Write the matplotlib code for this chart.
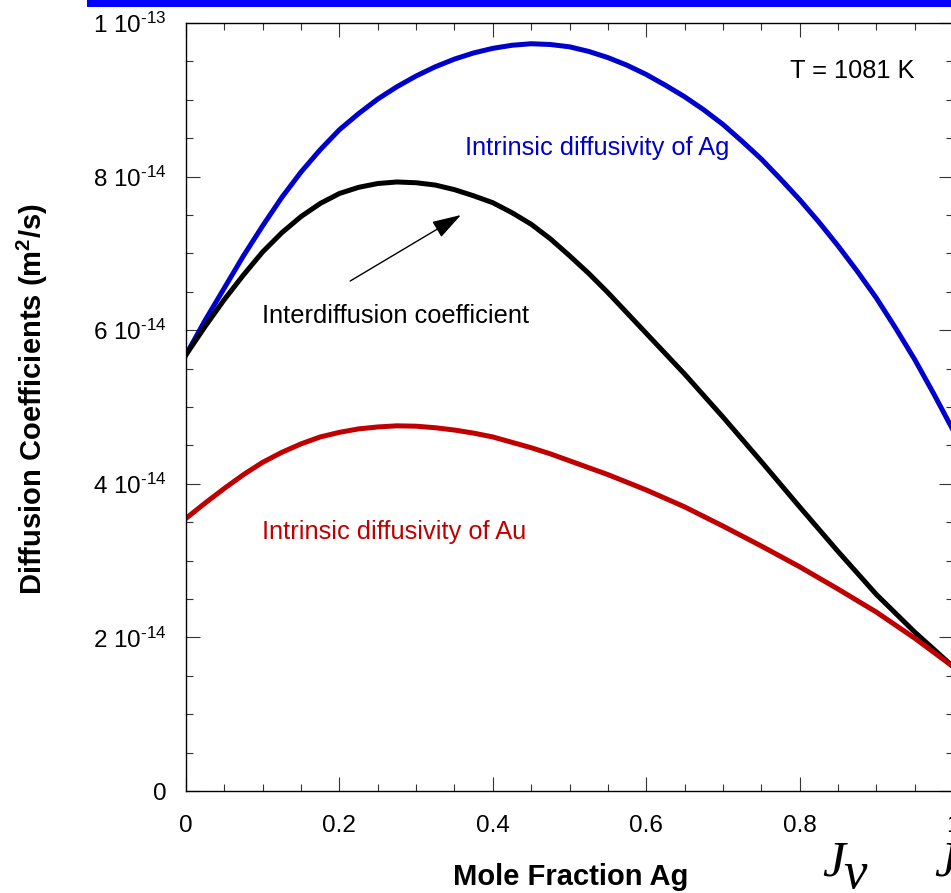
import numpy as np
import matplotlib
matplotlib.use("Agg")
import matplotlib.pyplot as plt
from matplotlib.ticker import MultipleLocator, FuncFormatter
from matplotlib.patches import Rectangle

plt.rcParams["font.family"] = ["Liberation Sans", "DejaVu Sans"]
plt.rcParams["mathtext.fontset"] = "custom"
plt.rcParams["mathtext.rm"] = "Liberation Sans"
plt.rcParams["mathtext.it"] = "Liberation Sans:italic"
plt.rcParams["mathtext.bf"] = "Liberation Sans:bold"
plt.rcParams["mathtext.default"] = "regular"

# ---------- data (diffusivities in units of 1e-14 m^2/s) ----------
SCALE = 1e-14
x_ag = [0.0, 0.025, 0.05, 0.075, 0.10, 0.125, 0.15, 0.175, 0.20, 0.225, 0.25, 0.275,
        0.30, 0.325, 0.35, 0.375, 0.40, 0.425, 0.45, 0.475, 0.50, 0.525, 0.55, 0.575,
        0.60, 0.625, 0.65, 0.675, 0.70, 0.725, 0.75, 0.775, 0.80, 0.825, 0.85, 0.875,
        0.90, 0.925, 0.95, 0.975, 1.0]
d_ag = [5.68, 6.13, 6.55, 6.97, 7.36, 7.73, 8.06, 8.35, 8.61, 8.82, 9.01, 9.17,
        9.31, 9.43, 9.53, 9.61, 9.67, 9.71, 9.73, 9.72, 9.69, 9.63, 9.55, 9.45,
        9.33, 9.19, 9.04, 8.87, 8.68, 8.46, 8.23, 7.97, 7.70, 7.41, 7.10, 6.77,
        6.42, 6.03, 5.62, 5.17, 4.70]

x_inter = [0.0, 0.025, 0.05, 0.075, 0.10, 0.125, 0.15, 0.175, 0.20, 0.225, 0.25, 0.275,
           0.30, 0.325, 0.35, 0.375, 0.40, 0.425, 0.45, 0.475, 0.50, 0.525, 0.55,
           0.60, 0.65, 0.70, 0.75, 0.80, 0.85, 0.90, 0.95, 1.0]
d_inter = [5.68, 6.05, 6.40, 6.72, 7.02, 7.27, 7.48, 7.65, 7.78, 7.86, 7.91, 7.93,
           7.92, 7.89, 7.83, 7.75, 7.66, 7.53, 7.38, 7.19, 6.97, 6.74, 6.49,
           5.96, 5.43, 4.87, 4.29, 3.70, 3.12, 2.56, 2.07, 1.62]

x_au = [0.0, 0.025, 0.05, 0.075, 0.10, 0.125, 0.15, 0.175, 0.20, 0.225, 0.25, 0.275,
        0.30, 0.325, 0.35, 0.375, 0.40, 0.425, 0.45, 0.475, 0.50,
        0.55, 0.60, 0.65, 0.70, 0.75, 0.80, 0.85, 0.90, 0.95, 1.0]
d_au = [3.55, 3.75, 3.94, 4.12, 4.28, 4.41, 4.52, 4.61, 4.67, 4.715, 4.74, 4.755,
        4.75, 4.73, 4.70, 4.66, 4.61, 4.54, 4.47, 4.39, 4.30,
        4.12, 3.92, 3.70, 3.45, 3.19, 2.92, 2.63, 2.33, 1.99, 1.62]

BLUE = "#0000CC"
RED = "#C00000"

# ---------- figure ----------
fig = plt.figure(figsize=(9.51, 8.93), dpi=100)
ax = fig.add_axes([186 / 951, 102 / 893, 767 / 951, 768 / 893])

ax.plot(x_ag, np.array(d_ag) * SCALE, color=BLUE, lw=3.6, solid_joinstyle="round")
ax.plot(x_inter, np.array(d_inter) * SCALE, color="black", lw=3.6, solid_joinstyle="round")
ax.plot(x_au, np.array(d_au) * SCALE, color=RED, lw=3.6, solid_joinstyle="round")

ax.set_xlim(0, 1)
ax.set_ylim(0, 1e-13)

ax.xaxis.set_major_locator(MultipleLocator(0.2))
ax.xaxis.set_minor_locator(MultipleLocator(0.05))
ax.yaxis.set_major_locator(MultipleLocator(2e-14))
ax.yaxis.set_minor_locator(MultipleLocator(0.5e-14))


def ylab(v, pos):
    if abs(v) < 1e-20:
        return "0"
    if v > 0.99e-13:
        return "1 10$^{\\text{-13}}$"
    return "%d 10$^{\\text{-14}}$" % round(v / 1e-14)


def xlab(v, pos):
    if abs(v) < 1e-9:
        return "0"
    if abs(v - 1) < 1e-9:
        return "1"
    return "%.1f" % v


ax.yaxis.set_major_formatter(FuncFormatter(ylab))
ax.xaxis.set_major_formatter(FuncFormatter(xlab))

ax.tick_params(which="both", direction="in", top=True, right=True, width=0.8, color="#333333")
ax.tick_params(which="major", length=10, labelsize=17.5)
ax.tick_params(which="minor", length=5)
ax.tick_params(axis="y", which="major", pad=14)
ax.tick_params(axis="x", which="major", pad=17)
for s in ax.spines.values():
    s.set_linewidth(1.0)

# labels on the curves
ax.text(0.3638, 8.28 * SCALE, "Intrinsic diffusivity of Ag", color=BLUE, fontsize=18.3)
ax.text(0.0987, 6.09 * SCALE, "Interdiffusion coefficient", color="black", fontsize=18.3)
ax.text(0.0987, 3.28 * SCALE, "Intrinsic diffusivity of Au", color=RED, fontsize=18.3)
ax.text(0.7875, 9.28 * SCALE, "T = 1081 K", color="black", fontsize=18.3)

ax.annotate("", xy=(0.3585, 7.50 * SCALE), xytext=(0.214, 6.64 * SCALE),
            arrowprops=dict(arrowstyle="-|>,head_length=0.9,head_width=0.28",
                            lw=1.0, color="black", mutation_scale=20,
                            shrinkA=0, shrinkB=0))

fig.text(571 / 951, (893 - 885) / 893, "Mole Fraction Ag", fontsize=21,
         fontweight="bold", ha="center", va="baseline")
fig.text(32.5 / 951, 1 - 399 / 893, "Diffusion Coefficients (m$^{\\mathbf{2}}$/s)",
         fontsize=21, fontweight="bold", rotation=90, ha="center", va="center")

# blue rule along the top edge
fig.patches.append(Rectangle((87 / 951, 1 - 6.5 / 893), 1.0, 6.5 / 893,
                             transform=fig.transFigure, color="#0000FF", lw=0))

# flux symbols below the axis
fig.text(822 / 951, (893 - 876) / 893, "J", fontsize=37, family="Liberation Serif",
         style="italic", va="baseline")
fig.text(843 / 951, (893 - 888) / 893, "v", fontsize=38, family="Liberation Serif",
         style="italic", va="baseline")
fig.text(934 / 951, (893 - 876) / 893, "J", fontsize=37, family="Liberation Serif",
         style="italic", va="baseline")

fig.savefig("out.png", dpi=100)
